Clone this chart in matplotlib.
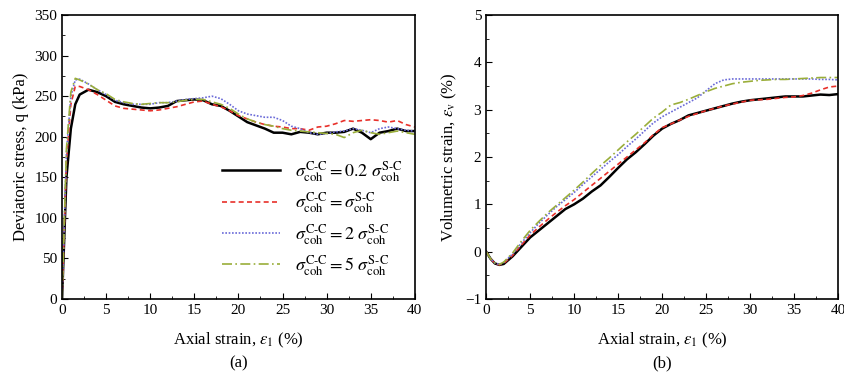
import matplotlib.pyplot as plt
from matplotlib.ticker import MultipleLocator

plt.rcParams['font.family'] = 'Liberation Serif'
plt.rcParams['mathtext.fontset'] = 'stix'

# --- data ---
strain_q = [0, 0.5, 1, 1.5, 2, 3, 4, 5, 6, 7, 8, 9, 10, 11, 12, 13, 14, 15, 16, 17, 18, 19, 20,
            21, 22, 23, 24, 25, 26, 27, 28, 29, 30, 31, 32, 33, 34, 35, 36, 37, 38, 39, 40]
q_02 = [0, 150, 210, 240, 252, 258, 255, 250, 243, 240, 238, 236, 235, 236, 238, 244, 245, 246, 245, 240,
        238, 232, 225, 218, 214, 210, 205, 205, 203, 206, 205, 203, 205, 205, 206, 210, 205, 197, 205, 207,
        210, 207, 207]
q_1 = [0, 170, 240, 262, 262, 258, 252, 245, 238, 235, 234, 233, 232, 233, 235, 237, 240, 243, 244, 240,
       237, 232, 226, 222, 218, 215, 213, 212, 210, 210, 208, 212, 213, 216, 220, 219, 220, 221, 220, 218,
       220, 215, 212]
q_2 = [0, 180, 250, 270, 271, 265, 258, 252, 245, 242, 240, 240, 240, 242, 242, 244, 246, 247, 248, 250,
       247, 240, 232, 228, 226, 224, 224, 220, 213, 210, 205, 203, 204, 206, 207, 210, 208, 205, 210, 212,
       210, 208, 207]
q_5 = [0, 185, 255, 272, 270, 265, 258, 253, 246, 243, 241, 240, 241, 242, 242, 243, 245, 246, 246, 243,
       240, 235, 228, 222, 218, 215, 213, 210, 208, 207, 206, 205, 204, 203, 199, 205, 208, 205, 203, 205,
       207, 205, 203]

strain_v = [0, 0.5, 1, 1.5, 2, 3, 4, 5, 6, 7, 8, 9, 10, 11, 12, 13, 14, 15, 16, 17, 18, 19, 20,
            21, 22, 23, 24, 25, 26, 27, 28, 29, 30, 31, 32, 33, 34, 35, 36, 37, 38, 39, 40]
v_02 = [0, -0.15, -0.25, -0.28, -0.26, -0.1, 0.1, 0.3, 0.45, 0.6, 0.75, 0.9, 1.0, 1.12, 1.27, 1.4, 1.58,
        1.77, 1.95, 2.1, 2.27, 2.45, 2.6, 2.7, 2.78, 2.88, 2.93, 2.98, 3.03, 3.08, 3.13, 3.17, 3.2, 3.22,
        3.24, 3.26, 3.28, 3.28, 3.28, 3.3, 3.32, 3.31, 3.33]
v_1 = [0, -0.15, -0.25, -0.28, -0.25, -0.08, 0.14, 0.35, 0.52, 0.68, 0.83, 0.97, 1.1, 1.25, 1.4, 1.55,
       1.7, 1.85, 2.0, 2.15, 2.3, 2.47, 2.62, 2.7, 2.78, 2.86, 2.92, 2.98, 3.03, 3.08, 3.12, 3.16, 3.2, 3.21,
       3.22, 3.24, 3.26, 3.27, 3.3, 3.35, 3.42, 3.48, 3.5]
v_2 = [0, -0.15, -0.24, -0.27, -0.23, -0.05, 0.18, 0.4, 0.6, 0.78, 0.95, 1.1, 1.25, 1.42, 1.58, 1.74,
       1.9, 2.05, 2.22, 2.38, 2.55, 2.72, 2.85, 2.95, 3.05, 3.15, 3.25, 3.4, 3.55, 3.63, 3.65, 3.65, 3.65,
       3.65, 3.65, 3.65, 3.65, 3.65, 3.65, 3.65, 3.64, 3.64, 3.63]
v_5 = [0, -0.15, -0.24, -0.27, -0.22, -0.03, 0.22, 0.45, 0.64, 0.82, 0.98, 1.14, 1.3, 1.47, 1.65, 1.82,
       1.98, 2.15, 2.32, 2.48, 2.65, 2.82, 2.95, 3.1, 3.15, 3.22, 3.3, 3.38, 3.45, 3.5, 3.55, 3.58, 3.6,
       3.62, 3.63, 3.64, 3.64, 3.65, 3.66, 3.67, 3.68, 3.68, 3.68]

labels = [r'$\sigma_{\rm coh}^{\rm C\text{-}C} = 0.2\ \sigma_{\rm coh}^{\rm S\text{-}C}$',
          r'$\sigma_{\rm coh}^{\rm C\text{-}C} = \sigma_{\rm coh}^{\rm S\text{-}C}$',
          r'$\sigma_{\rm coh}^{\rm C\text{-}C} = 2\ \sigma_{\rm coh}^{\rm S\text{-}C}$',
          r'$\sigma_{\rm coh}^{\rm C\text{-}C} = 5\ \sigma_{\rm coh}^{\rm S\text{-}C}$']
styles = [dict(color='black', ls='-', lw=1.8),
          dict(color='#e8302a', ls=(0, (3, 2)), lw=1.2),
          dict(color='#6a6ad8', ls=(0, (1, 1)), lw=1.2),
          dict(color='#9aae3a', ls=(0, (6, 2, 1, 2)), lw=1.2)]

fig = plt.figure(figsize=(8.44, 3.77), dpi=100)
ax1 = fig.add_axes([0.0735, 0.207, 0.418, 0.753])
ax2 = fig.add_axes([0.576, 0.207, 0.417, 0.753])

for ys, lab, st in zip([q_02, q_1, q_2, q_5], labels, styles):
    ax1.plot(strain_q, ys, label=lab, **st)
for ys, st in zip([v_02, v_1, v_2, v_5], styles):
    ax2.plot(strain_v, ys, **st)

ax1.set_xlim(0, 40)
ax1.set_ylim(0, 350)
ax1.yaxis.set_major_locator(MultipleLocator(50))
ax1.yaxis.set_minor_locator(MultipleLocator(25))
ax1.set_ylabel('Deviatoric stress, q (kPa)', fontsize=12)
ax1.legend(loc='lower right', frameon=False, fontsize=13, handlelength=3.2,
           labelspacing=0.35, borderaxespad=0.3, bbox_to_anchor=(1.0, 0.03))

ax2.set_xlim(0, 40)
ax2.set_ylim(-1, 5)
ax2.yaxis.set_major_locator(MultipleLocator(1))
ax2.yaxis.set_minor_locator(MultipleLocator(0.5))
ax2.set_ylabel(r'Volumetric strain, $\varepsilon_{\rm v}$ (%)', fontsize=12)

for ax, tag in [(ax1, '(a)'), (ax2, '(b)')]:
    ax.xaxis.set_major_locator(MultipleLocator(5))
    ax.xaxis.set_minor_locator(MultipleLocator(2.5))
    ax.tick_params(which='both', direction='in', labelsize=11)
    ax.tick_params(which='major', length=4)
    ax.tick_params(which='minor', length=2)
    ax.set_xlabel(r'Axial strain, $\varepsilon_1$ (%)', fontsize=12, labelpad=10)
    ax.text(0.5, -0.2, tag, transform=ax.transAxes, ha='center', va='top', fontsize=12)
    for s in ax.spines.values():
        s.set_linewidth(1.2)

plt.savefig('out.png', dpi=100)
